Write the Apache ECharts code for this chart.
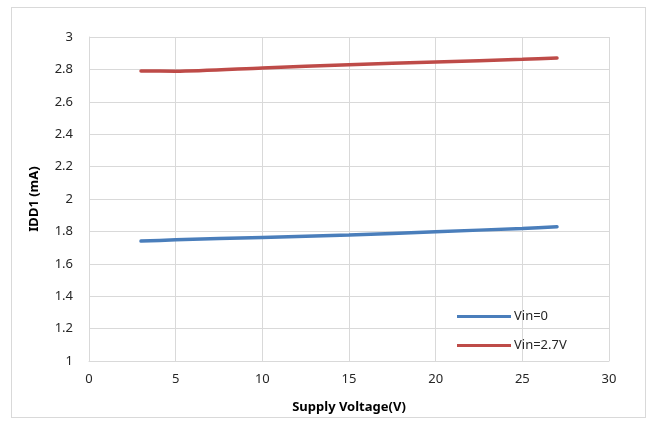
<!DOCTYPE html>
<html><head><meta charset="utf-8">
<script src="https://cdn.jsdelivr.net/npm/echarts@6/dist/echarts.min.js"></script>
<style>html,body{margin:0;padding:0;background:#fff}#frame{position:absolute;left:11px;top:7px;width:635px;height:411px;border:1px solid #d9d9d9;box-sizing:border-box}#c{position:absolute;left:0;top:0;width:650px;height:426px}</style>
</head><body><div id="frame"></div><div id="c"></div>
<script>
const xVals = [3, 5, 10, 15, 20, 25, 27];
const vin0 = [1.74, 1.748, 1.763, 1.778, 1.798, 1.818, 1.828];
const vin27 = [2.79, 2.789, 2.809, 2.829, 2.846, 2.862, 2.87];
const xTicks = [0, 5, 10, 15, 20, 25, 30];
const yTicks = [1, 1.2, 1.4, 1.6, 1.8, 2, 2.2, 2.4, 2.6, 2.8, 3];
const font = '"Noto Sans", sans-serif';
const chart = echarts.init(document.getElementById('c'), null, {renderer: 'canvas'});
const pair = (xs, ys) => xs.map((x, i) => [x, ys[i]]);
chart.setOption({
  animation: false,
  grid: {left: 89, right: 41, top: 37, bottom: 65},
  legend: {
    orient: 'vertical', left: 457, top: 310, padding: 0, itemWidth: 54, itemHeight: 3, itemGap: 16,
    icon: 'rect',
    textStyle: {fontFamily: font, fontSize: 13, color: '#262626', padding: [0, 0, 0, -2]},
    data: ['Vin=0', 'Vin=2.7V']
  },
  xAxis: {
    type: 'value', min: 0, max: 30, interval: 5,
    name: 'Supply Voltage(V)', nameLocation: 'middle', nameGap: 40,
    nameTextStyle: {fontFamily: font, fontSize: 13, fontWeight: 'bold', color: '#000'},
    axisLine: {show: true, lineStyle: {color: '#d9d9d9', width: 1}},
    axisTick: {show: false},
    axisLabel: {fontFamily: font, fontSize: 13, color: '#262626', margin: 12,
      formatter: v => xTicks.includes(v) ? String(v) : ''},
    splitLine: {show: true, lineStyle: {color: '#d9d9d9', width: 1}}
  },
  yAxis: {
    type: 'value', min: 1, max: 3, interval: 0.2,
    name: 'IDD1 (mA)', nameLocation: 'middle', nameGap: 48, nameRotate: 90,
    nameTextStyle: {fontFamily: font, fontSize: 13, fontWeight: 'bold', color: '#000'},
    axisLine: {show: true, lineStyle: {color: '#d9d9d9', width: 1}},
    axisTick: {show: false},
    axisLabel: {fontFamily: font, fontSize: 13, color: '#262626', margin: 16,
      formatter: v => { const t = yTicks.find(k => Math.abs(k - v) < 1e-6); return t === undefined ? '' : String(t); }},
    splitLine: {show: true, lineStyle: {color: '#d9d9d9', width: 1}}
  },
  series: [
    {name: 'Vin=0', type: 'line', data: pair(xVals, vin0), smooth: 0.25, showSymbol: false, symbol: 'none',
      lineStyle: {color: '#4a7ebb', width: 3.5, cap: 'round'}, itemStyle: {color: '#4a7ebb'}},
    {name: 'Vin=2.7V', type: 'line', data: pair(xVals, vin27), smooth: 0.25, showSymbol: false, symbol: 'none',
      lineStyle: {color: '#be4b48', width: 3.5, cap: 'round'}, itemStyle: {color: '#be4b48'}}
  ]
});
</script></body></html>
